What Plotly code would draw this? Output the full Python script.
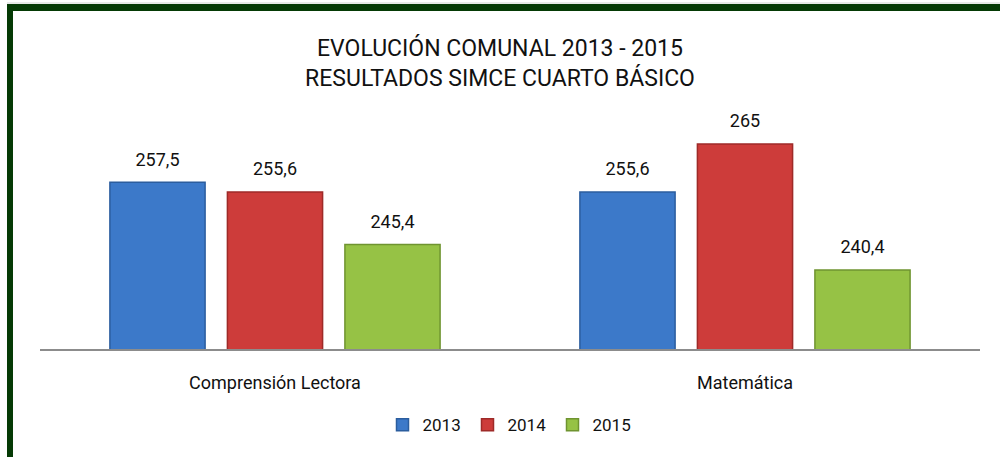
import plotly.graph_objects as go

# data
categories = ["Comprensión Lectora", "Matemática"]
years = ["2013", "2014", "2015"]
values_2013 = [257.5, 255.6]
values_2014 = [255.6, 265]
values_2015 = [245.4, 240.4]

colors = {"2013": "#3c79c9", "2014": "#cd3c3a", "2015": "#96c245"}
edges = {"2013": "#2b5d9e", "2014": "#9e2a28", "2015": "#6f9430"}

FONT = "Roboto, Liberation Sans, sans-serif"
W, H = 1000, 457
ML, MR, MT, MB = 40, 20, 67, 108


def fmt(v):
    return f"{v:g}".replace(".", ",")


fig = go.Figure()
for year, vals in zip(years, [values_2013, values_2014, values_2015]):
    fig.add_trace(go.Bar(
        name=year,
        x=categories,
        y=vals,
        offsetgroup=year,
        marker=dict(color=colors[year], line=dict(color=edges[year], width=1.5)),
    ))
    # value labels a little above each bar
    fig.add_trace(go.Scatter(
        x=categories,
        y=vals,
        offsetgroup=year,
        mode="markers+text",
        text=[fmt(v) for v in vals],
        textposition="top center",
        textfont=dict(size=18, color="#111"),
        marker=dict(size=18, color="rgba(0,0,0,0)"),
        cliponaxis=False,
        showlegend=False,
        hoverinfo="skip",
    ))

# green frame (left and top edge), in paper units
pw, ph = W - ML - MR, H - MT - MB


def px_x(p):
    return (p - ML) / pw


def px_y(p):
    return (H - MB - p) / ph


frame = [
    dict(x0=px_x(7), x1=px_x(13), y0=px_y(457), y1=px_y(4)),
    dict(x0=px_x(7), x1=px_x(1000), y0=px_y(11), y1=px_y(4)),
]
shapes = [dict(type="rect", xref="paper", yref="paper", fillcolor="#053a05",
               line=dict(width=0), layer="above", **f) for f in frame]
shapes.append(dict(type="line", xref="paper", yref="paper", x0=px_x(7), x1=px_x(1000),
                   y0=px_y(3), y1=px_y(3), line=dict(color="#d0d4d0", width=1)))

fig.update_layout(
    width=W, height=H,
    margin=dict(l=ML, r=MR, t=MT, b=MB),
    paper_bgcolor="white", plot_bgcolor="white",
    font=dict(family=FONT, size=18, color="#111"),
    title=dict(
        text="EVOLUCIÓN COMUNAL 2013 - 2015<br>RESULTADOS SIMCE CUARTO BÁSICO",
        x=0.5, xanchor="center", y=1 - 56 / H, yanchor="middle",
        font=dict(family=FONT, size=23, color="#111"),
    ),
    barmode="group",
    scattermode="group",
    bargap=0.25,
    bargroupgap=0.19,
    scattergap=0.25,
    showlegend=True,
    legend=dict(orientation="h", x=0.5, xanchor="center", y=-0.27, yanchor="middle",
                font=dict(size=17), entrywidth=40, entrywidthmode="pixels",
                tracegroupgap=0),
    shapes=shapes,
)
fig.update_xaxes(showline=True, linecolor="#8c8c8c", linewidth=2, ticks="",
                 ticklabelstandoff=16, tickfont=dict(size=18), showgrid=False)
fig.update_yaxes(range=[225, 280], visible=False, showgrid=False)

fig.write_html("out.html", config={"displayModeBar": False},
               post_script="document.body.style.margin='0';")
